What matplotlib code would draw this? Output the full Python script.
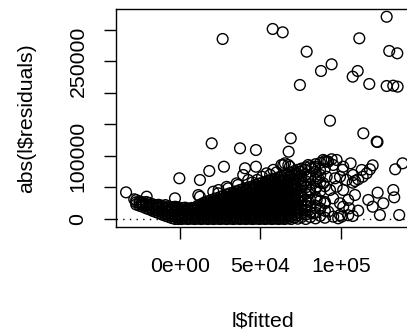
"""abs(residuals) against fitted values, base-R style scatter."""

import matplotlib
matplotlib.use("Agg")
import matplotlib.pyplot as plt
import numpy as np

# values in thousands
outlier_fitted_k = [
    128.4, 57.6, 63.8, 26.5, 111.4, 78.7, 130.0, 135.0, 94.2, 87.6, 110.4,
    107.3, 117.6, 74.5, 128.4, 132.5, 135.2,
    93.2, 113.9, 122.2, 122.7, 68.8, 19.7, 37.3, 47.2, 67.5, 138.3, 133.7,
    -0.4, 18.2, 27.3, 47.2, 40.4, 12.4, -33.5, -28.4, -23.8, -20.7, -3.1,
    12.4, 20.7, 11.4,
]
outlier_resid_k = [
    321.0, 301.6, 296.3, 285.7, 286.8, 265.6, 266.7, 263.0, 245.5, 234.9, 234.9,
    225.9, 214.3, 212.7, 211.1, 211.6, 210.0,
    156.0, 136.0, 122.7, 122.2, 128.1, 120.1, 112.2, 109.5, 106.8, 88.4, 78.9,
    64.6, 76.2, 83.0, 83.0, 80.5, 61.9, 42.3, 31.3, 24.9, 35.4, 32.8,
    35.4, 43.3, 38.0,
]

# scattered rings on the right and along the top of the dense wedge
sparse_fitted_k = [
    122.8, 132.5, 133.1, 126.3, 117.0, 119.7, 124.2, 136.2, 110.7, 107.3,
    98.3, 106.0, 112.9, 118.0, 119.7, 108.7, 94.2, 92.1, 101.4, 107.6,
    107.3, 108.7, 110.7, 113.5, 116.0, 103.5, 104.5, 101.4, 105.2, 101.0,
    100.4, 104.5, 99.4, 95.2, 92.1, 87.0, 82.8, 78.7, 84.9, 90.0, 95.2,
    99.4, 101.4, 97.3, 93.2, 89.0, 84.9, 80.7, 76.6, 79.7, 85.9, 91.1,
    96.3, 99.4, 75.6, 79.7, 95.2, 91.1, 87.0, 81.8, 77.6, 65.2, 67.3,
    97.3, 74.5, 79.7, 83.9, 71.4, 63.0, 89.0, 83.9, 68.3, 72.5,
    29.0, 36.0, 39.3, 42.4, 53.8, 58.0, 64.2, 24.0, 30.0, 35.2, 23.8,
    48.0, 51.0, 56.0, 60.0, 45.0,
]
sparse_resid_k = [
    41.8, 46.0, 34.4, 24.9, 30.2, 19.5, 6.3, 6.3, 13.2, 4.8,
    1.1, 88.4, 77.8, 78.9, 85.2, 38.1, 94.8, 91.0, 83.0, 69.8,
    57.6, 60.3, 63.0, 67.1, 72.5, 61.9, 30.2, 19.5, 17.0, 78.0,
    3.7, 6.0, 6.3, 3.7, 11.6, 17.0, 9.0, 19.5, 30.2, 25.0, 32.9,
    25.0, 46.0, 51.3, 46.0, 56.7, 51.3, 46.0, 56.7, 67.0, 64.6, 67.0,
    64.6, 67.0, 35.4, 27.5, 85.7, 91.0, 77.8, 80.5, 77.8, 88.4, 85.7,
    93.7, 75.0, 85.7, 80.5, 72.5, 85.7, 93.7, 83.0, 83.0, 72.5,
    51.0, 54.0, 69.8, 61.9, 72.5, 78.0, 85.7, 46.0, 48.7, 56.6, 40.7,
    62.0, 67.0, 70.0, 74.0, 58.0,
]

# the dense black wedge: one fitted value per column, its residuals listed
dense_fitted_k = [
    -27.2, -25.1, -23.3, -21.0, -19.2, -17.1, -15.0, -13.2, -11.1, -9.0,
    -7.2, -5.1, -3.0, -1.1, 1.0, 3.1, 5.0, 7.2, 9.1, 11.0,
    13.1, 15.0, 17.2, 19.1, 21.0, 23.2, 25.0, 27.1, 29.0, 31.2,
    33.1, 35.0, 37.2, 39.1, 41.0, 43.2, 45.1, 47.0, 49.2, 51.1,
    53.0, 55.2, 57.1, 59.0, 61.2, 63.1, 65.0, 67.2, 69.1, 71.0,
    73.2, 75.5, 78.1, 81.0, 84.2, 87.1, 90.0,
]
dense_resid_k = [
    [23, 26.5, 30],
    [21, 25, 28],
    [19.5, 22.5, 26.5],
    [17, 21, 24, 27],
    [15.5, 18.5, 22, 25.5],
    [13, 17, 20.5, 23.5],
    [11, 14, 18, 22],
    [9.5, 12.5, 16.5, 19.5, 22.5],
    [7, 11, 14, 18, 21],
    [5, 8, 12, 15.5, 18.5, 22],
    [3.5, 6.5, 10.5, 13.5, 17.5, 20],
    [1.5, 5, 8, 12, 15, 19],
    [0, 3.5, 6.5, 10.5, 13, 17, 19.5],
    [0, 2.5, 6, 9, 13, 16, 18.5],
    [0, 3.5, 7.5, 10.5, 14.5, 17.5],
    [0.5, 4, 7, 11.5, 14, 18],
    [0, 3, 6.5, 10, 13.5, 16.5],
    [0.5, 4.5, 7.5, 11, 15, 17.5],
    [0, 3.5, 7, 10, 14, 17],
    [0.5, 4, 8, 11, 14.5, 18.5, 21],
    [0, 3, 7, 10.5, 14, 17.5, 21, 23.5],
    [0.5, 4.5, 7.5, 11.5, 14.5, 18, 22, 26],
    [0, 3.5, 7, 10, 14, 17.5, 21.5, 24.5, 28],
    [0.5, 4, 8, 11, 15, 18, 21.5, 25.5, 29.5],
    [0, 3.5, 6.5, 10.5, 14, 17, 21, 24.5, 28, 31.5],
    [0.5, 4, 7.5, 11.5, 14.5, 18.5, 21.5, 25, 29, 33],
    [0, 3, 7, 10.5, 14, 17.5, 21, 24, 28, 31.5, 35],
    [0.5, 4.5, 8, 11, 14.5, 18, 22, 25, 28.5, 32.5, 37],
    [0, 3.5, 7, 10, 14, 17.5, 21, 24.5, 28, 31, 35, 39],
    [0.5, 4, 7.5, 11.5, 14.5, 18, 21.5, 25.5, 28.5, 32, 36, 41],
    [0, 3.5, 6.5, 10.5, 14, 17.5, 21, 24, 28, 31.5, 35, 38.5, 42],
    [0.5, 4, 8, 11, 14.5, 18.5, 21.5, 25, 29, 32, 35.5, 39.5, 44],
    [0, 3, 7, 10.5, 14, 17, 21, 24.5, 28, 31.5, 35, 38, 42, 46],
    [0.5, 4.5, 7.5, 11, 15, 18, 21.5, 25, 28.5, 32.5, 35.5, 39, 43, 47.5],
    [0, 3.5, 7, 10.5, 13.5, 17.5, 21, 24.5, 28, 31, 35, 38.5, 42, 45.5, 49],
    [0.5, 4, 7.5, 11.5, 14.5, 18, 22, 25, 28.5, 32, 35.5, 39.5, 42.5, 46.5, 50.5],
    [0, 3.5, 7, 10, 14, 17.5, 21, 24, 28, 31.5, 35, 38, 42, 45.5, 49, 52],
    [0.5, 4, 8, 11, 14.5, 18.5, 21.5, 25.5, 28.5, 32, 36, 39, 42.5, 46, 50, 54],
    [0, 3.5, 6.5, 10.5, 14, 17, 21, 24.5, 28, 31, 35, 38.5, 42, 45, 49, 52.5, 56],
    [0.5, 4.5, 7.5, 11, 15, 18, 21.5, 25, 29, 32.5, 35.5, 39, 43, 46, 49.5, 53.5, 57.5],
    [0, 3, 7, 10.5, 14, 17.5, 21, 24, 28, 31.5, 35, 38.5, 42, 45.5, 49, 52, 56, 59],
    [0.5, 4, 7.5, 11.5, 14.5, 18, 22, 25, 28.5, 32, 36, 39, 42.5, 46, 50, 53, 57, 61],
    [0, 3.5, 7, 10, 14, 17.5, 21, 24.5, 28, 31, 35, 38.5, 42, 45.5, 49, 52.5, 56, 59.5, 62.5],
    [0.5, 4.5, 8, 11, 14.5, 18.5, 21.5, 25, 29, 32, 35.5, 39, 43, 46, 49.5, 53, 57, 60.5, 64],
    [0, 3.5, 6.5, 10.5, 14, 17, 21, 24.5, 28, 31.5, 35, 38, 42, 45.5, 49, 52.5, 56, 59.5, 63, 66],
    [0.5, 4, 7.5, 11.5, 14.5, 18, 22, 25, 28.5, 32, 35.5, 39.5, 42.5, 46, 50, 54, 58, 62, 67.5],
    [0, 3.5, 7, 11, 15, 19, 23, 27, 31, 35, 39, 43, 47, 51, 55, 59, 63, 69],
    [1, 5, 9, 13, 17, 21.5, 26, 30.5, 35, 39.5, 44, 48.5, 53, 57.5, 62, 66, 71],
    [0, 4, 8.5, 13, 17.5, 22, 27, 32, 37, 42, 47, 52, 57, 62, 67, 73],
    [2, 7, 12, 17, 22, 28, 34, 40, 46, 52, 58, 64, 70, 76],
    [0.5, 6, 11, 16.5, 22.5, 29, 35, 41, 48, 55, 62, 69, 78],
    [3, 9, 15, 21, 28, 36, 44, 52, 60, 68, 80],
    [0, 7, 14, 22, 31, 40, 50, 60, 71, 82],
    [3, 11, 20, 30, 42, 55, 67, 84],
    [1, 10, 21, 35, 48, 62, 75, 87],
    [5, 16, 29, 44, 58, 70, 89],
    [2, 13, 27, 52, 80, 92],
]

x_ticks = [0, 50000, 100000]
x_tick_labels = ["0e+00", "5e+04", "1e+05"]
y_ticks = [0, 50000, 100000, 150000, 200000, 250000, 300000]
y_tick_labels = ["0", "", "100000", "", "", "250000", ""]

W, H = 407, 331
plt.rcParams["font.family"] = ["Liberation Sans", "DejaVu Sans"]
FS = 15.3

dense_x = np.repeat(dense_fitted_k, [len(c) for c in dense_resid_k])
dense_y = np.concatenate([np.asarray(c, float) for c in dense_resid_k])
fitted = np.concatenate([outlier_fitted_k, sparse_fitted_k, dense_x]) * 1000
resid = np.concatenate([outlier_resid_k, sparse_resid_k, dense_y]) * 1000

fig = plt.figure(figsize=(W / 100, H / 100), dpi=100)
# axes box in pixels: left 116, right 410 (just past the edge), top 9, bottom 227
ax = fig.add_axes([116 / W, 1 - 227 / H, (410 - 116) / W, (227 - 9) / H])

ax.scatter(fitted, resid, s=60, facecolors="none", edgecolors="black",
           linewidths=1.0, zorder=3)
ax.axhline(0, color="black", linewidth=1.0, linestyle=(0, (1, 3.8)), zorder=2)

ax.set_xlim(-39750, 142900)
ax.set_ylim(-12700, 333300)

ax.set_xticks(x_ticks)
ax.set_xticklabels(x_tick_labels)
ax.set_yticks(y_ticks)
ax.set_yticklabels(y_tick_labels, rotation=90, va="center")
ax.tick_params(axis="both", direction="out", length=8.6, width=1.0,
               labelsize=FS, colors="black")
ax.tick_params(axis="x", pad=13)
ax.tick_params(axis="y", pad=12)

for sp in ax.spines.values():
    sp.set_linewidth(1.0)

fig.text(263 / W, 1 - 321 / H, "l$fitted", fontsize=FS, ha="center", va="center")
fig.text(27 / W, 1 - 118 / H, "abs(l$residuals)", fontsize=FS, ha="center",
         va="center", rotation=90)

fig.savefig("out.png", dpi=100)
